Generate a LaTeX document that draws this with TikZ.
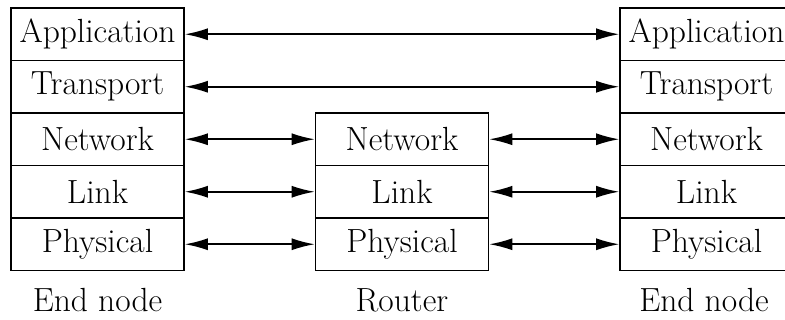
\documentclass[tikz,border=0pt]{standalone}
\usepackage{fontspec}
\usetikzlibrary{arrows.meta}
\begin{document}
\begin{tikzpicture}[x=1pt,y=-1pt,
  layer/.style={draw, line width=1.6pt, minimum width=173pt, minimum height=52.5pt, inner sep=0pt, font=\fontsize{33.5}{38}\selectfont},
  lbl/.style={inner sep=0pt, font=\fontsize{33.5}{38}\selectfont},
  conn/.style={line width=1.6pt, {Latex[length=23pt,width=12pt]}-{Latex[length=23pt,width=12pt]}}]
\useasboundingbox (0,0) rectangle (785,320);
% left end node
\node[layer] (la) at (97.5,34.25) {Application};
\node[layer] (lt) at (97.5,86.75) {Transport};
\node[layer] (ln) at (97.5,139.25) {Network};
\node[layer] (ll) at (97.5,191.75) {Link};
\node[layer] (lp) at (97.5,244.25) {Physical};
% router
\node[layer] (rn) at (402,139.25) {Network};
\node[layer] (rl) at (402,191.75) {Link};
\node[layer] (rp) at (402,244.25) {Physical};
% right end node
\node[layer] (ea) at (706.5,34.25) {Application};
\node[layer] (et) at (706.5,86.75) {Transport};
\node[layer] (en) at (706.5,139.25) {Network};
\node[layer] (el) at (706.5,191.75) {Link};
\node[layer] (ep) at (706.5,244.25) {Physical};
% labels
\node[lbl] (l1) at (97.5,300) {End node};
\node[lbl] (l2) at (402,300) {Router};
\node[lbl] (l3) at (704,300) {End node};
% connectors
\draw[conn] (la.east) -- (ea.west);
\draw[conn] (lt.east) -- (et.west);
\draw[conn] (ln.east) -- (rn.west);
\draw[conn] (ll.east) -- (rl.west);
\draw[conn] (lp.east) -- (rp.west);
\draw[conn] (rn.east) -- (en.west);
\draw[conn] (rl.east) -- (el.west);
\draw[conn] (rp.east) -- (ep.west);
\end{tikzpicture}
\end{document}
